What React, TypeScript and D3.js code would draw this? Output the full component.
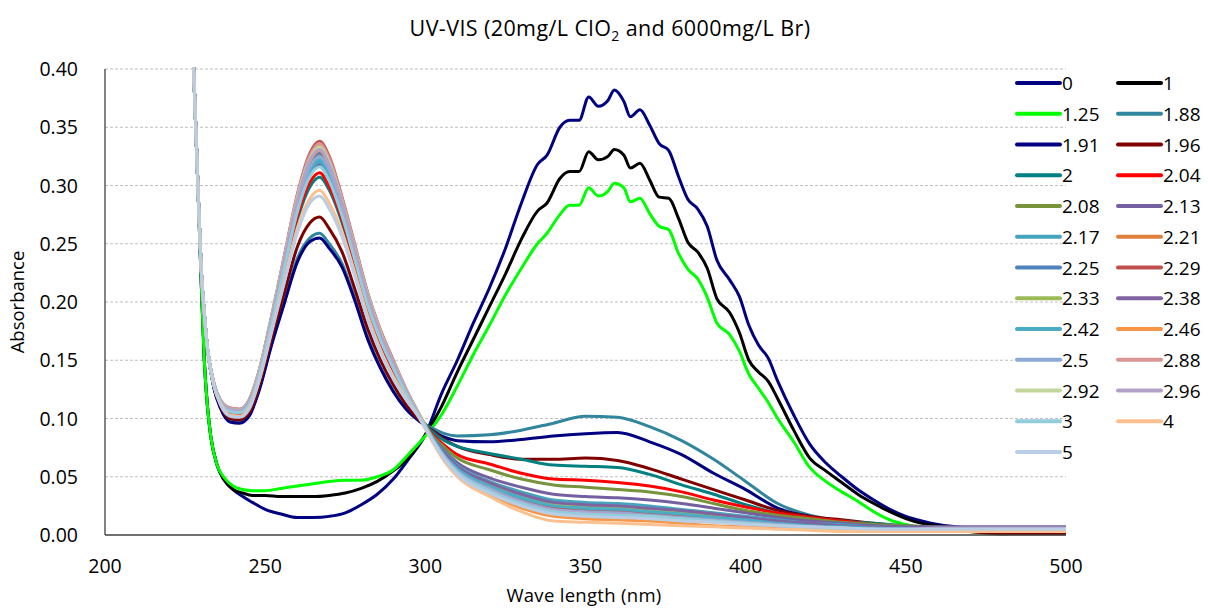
import React from "react";
import * as d3 from "d3";

// ---------- data ----------
const WL_MAIN = [227, 229, 230, 231, 232, 233, 235, 237, 240, 243, 246, 250, 255, 260, 265, 270, 275, 280, 285, 290, 295, 300, 305, 310, 315, 320, 325, 330, 335, 338, 342, 345, 348, 351, 354, 357, 359, 362, 364, 367, 370, 373, 376, 379, 382, 385, 388, 391, 395, 398, 401, 404, 407, 410, 415, 420, 425, 430, 435, 440, 445, 450, 455, 460, 470, 480, 490, 500];

const S_0 = [0.45, 0.30, 0.22, 0.15, 0.11, 0.085,
  0.060, 0.048, 0.039, 0.033, 0.028, 0.022,
  0.018, 0.015, 0.015, 0.016, 0.019, 0.026,
  0.035, 0.048, 0.066, 0.086, 0.121, 0.150,
  0.182, 0.212, 0.246, 0.285, 0.318, 0.326,
  0.350, 0.356, 0.356, 0.376, 0.368, 0.373,
  0.382, 0.372, 0.359, 0.365, 0.352, 0.336,
  0.330, 0.308, 0.288, 0.280, 0.265, 0.236,
  0.219, 0.205, 0.180, 0.163, 0.152, 0.132,
  0.103, 0.078, 0.062, 0.050, 0.039, 0.030,
  0.022, 0.016, 0.012, 0.009, 0.006, 0.005,
  0.005, 0.005];

const S_1 = [0.45, 0.30, 0.22, 0.15, 0.11, 0.085,
  0.060, 0.048, 0.039, 0.036, 0.034, 0.034,
  0.033, 0.033, 0.033, 0.034, 0.036, 0.040,
  0.046, 0.055, 0.067, 0.086, 0.110, 0.140,
  0.168, 0.196, 0.224, 0.254, 0.278, 0.285,
  0.306, 0.312, 0.312, 0.329, 0.322, 0.325,
  0.331, 0.326, 0.315, 0.319, 0.305, 0.290,
  0.289, 0.272, 0.251, 0.243, 0.229, 0.203,
  0.191, 0.174, 0.150, 0.140, 0.132, 0.117,
  0.090, 0.066, 0.055, 0.045, 0.035, 0.027,
  0.020, 0.014, 0.010, 0.008, 0.005, 0.004,
  0.003, 0.003];

const S_125 = [0.45, 0.30, 0.22, 0.15, 0.11, 0.085,
  0.060, 0.050, 0.042, 0.039, 0.038, 0.038,
  0.040, 0.042, 0.044, 0.046, 0.047, 0.047,
  0.050, 0.056, 0.070, 0.085, 0.103, 0.128,
  0.155, 0.180, 0.206, 0.229, 0.250, 0.259,
  0.275, 0.283, 0.283, 0.298, 0.291, 0.295,
  0.302, 0.298, 0.286, 0.289, 0.276, 0.265,
  0.262, 0.242, 0.228, 0.220, 0.204, 0.182,
  0.172, 0.158, 0.138, 0.126, 0.114, 0.100,
  0.080, 0.058, 0.046, 0.037, 0.029, 0.020,
  0.013, 0.009, 0.006, 0.005, 0.003, 0.001,
  0.003, 0.004];

const WL_FAM = [227, 229, 230, 231, 232, 234, 236, 239, 242, 245, 248, 252, 256, 260, 264, 267, 270, 274, 278, 282, 286, 290, 294, 298, 302, 306, 310, 320, 330, 340, 350, 360, 370, 380, 390, 400, 410, 420, 430, 440, 450, 460, 470, 480, 490, 500];

const S_188 = [0.45, 0.30, 0.23, 0.19, 0.16, 0.126, 0.110, 0.098, 0.097, 0.103, 0.124, 0.164, 0.200, 0.237, 0.255, 0.259, 0.250, 0.233, 0.203, 0.170, 0.144, 0.124, 0.109, 0.098,
  0.092, 0.087, 0.085, 0.086, 0.090, 0.096, 0.102, 0.101, 0.093, 0.081, 0.065, 0.046, 0.027, 0.017, 0.012, 0.009, 0.007, 0.006, 0.006, 0.006, 0.006, 0.006];
const S_191 = [0.45, 0.30, 0.23, 0.19, 0.16, 0.126, 0.109, 0.097, 0.096, 0.102, 0.123, 0.163, 0.199, 0.234, 0.252, 0.255, 0.246, 0.230, 0.201, 0.168, 0.143, 0.123, 0.108, 0.098,
  0.090, 0.084, 0.081, 0.080, 0.082, 0.085, 0.087, 0.088, 0.080, 0.069, 0.053, 0.039, 0.023, 0.016, 0.012, 0.009, 0.007, 0.006, 0.006, 0.006, 0.006, 0.006];
const S_196 = [0.45, 0.30, 0.23, 0.19, 0.16, 0.127, 0.111, 0.100, 0.099, 0.105, 0.127, 0.169, 0.208, 0.247, 0.268, 0.273, 0.263, 0.243, 0.211, 0.177, 0.150, 0.129, 0.112, 0.099,
  0.090, 0.082, 0.076, 0.069, 0.065, 0.065, 0.066, 0.064, 0.057, 0.048, 0.039, 0.030, 0.021, 0.016, 0.013, 0.010, 0.007, 0.005, 0.003, 0.001, 0.001, 0.001];
const S_2 = [0.45, 0.30, 0.23, 0.19, 0.16, 0.128, 0.114, 0.105, 0.104, 0.111, 0.134, 0.179, 0.225, 0.270, 0.299, 0.307, 0.296, 0.268, 0.231, 0.193, 0.164, 0.140, 0.119, 0.102,
  0.089, 0.081, 0.076, 0.070, 0.065, 0.060, 0.059, 0.058, 0.052, 0.043, 0.035, 0.026, 0.019, 0.015, 0.012, 0.010, 0.008, 0.006, 0.005, 0.005, 0.005, 0.005];
const S_204 = [0.45, 0.30, 0.23, 0.19, 0.16, 0.129, 0.114, 0.105, 0.104, 0.111, 0.135, 0.180, 0.227, 0.273, 0.303, 0.311, 0.299, 0.271, 0.233, 0.195, 0.165, 0.141, 0.120, 0.102,
  0.087, 0.077, 0.069, 0.061, 0.053, 0.048, 0.047, 0.045, 0.042, 0.037, 0.030, 0.024, 0.019, 0.015, 0.012, 0.009, 0.007, 0.006, 0.005, 0.005, 0.005, 0.005];
const S_208 = [0.45, 0.30, 0.23, 0.19, 0.16, 0.129, 0.115, 0.107, 0.106, 0.113, 0.137, 0.183, 0.232, 0.281, 0.313, 0.322, 0.310, 0.278, 0.240, 0.200, 0.170, 0.145, 0.122, 0.103,
  0.086, 0.075, 0.066, 0.056, 0.048, 0.043, 0.041, 0.039, 0.037, 0.033, 0.027, 0.021, 0.017, 0.014, 0.011, 0.009, 0.008, 0.007, 0.006, 0.006, 0.006, 0.006];
const S_213 = [0.45, 0.30, 0.23, 0.19, 0.16, 0.129, 0.114, 0.106, 0.105, 0.113, 0.136, 0.182, 0.230, 0.278, 0.310, 0.318, 0.306, 0.276, 0.237, 0.198, 0.168, 0.143, 0.121, 0.103,
  0.085, 0.072, 0.062, 0.049, 0.041, 0.035, 0.033, 0.032, 0.030, 0.027, 0.023, 0.019, 0.015, 0.012, 0.010, 0.008, 0.007, 0.007, 0.007, 0.007, 0.007, 0.007];
const S_217 = [0.45, 0.30, 0.23, 0.19, 0.16, 0.129, 0.115, 0.106, 0.105, 0.113, 0.136, 0.183, 0.231, 0.279, 0.311, 0.320, 0.308, 0.277, 0.239, 0.199, 0.169, 0.144, 0.121, 0.103,
  0.085, 0.071, 0.060, 0.046, 0.037, 0.030, 0.028, 0.027, 0.025, 0.022, 0.019, 0.016, 0.013, 0.010, 0.009, 0.007, 0.006, 0.005, 0.005, 0.005, 0.005, 0.005];
const S_221 = [0.45, 0.30, 0.23, 0.19, 0.16, 0.129, 0.115, 0.107, 0.106, 0.114, 0.138, 0.184, 0.234, 0.284, 0.317, 0.326, 0.314, 0.281, 0.242, 0.202, 0.171, 0.146, 0.123, 0.103,
  0.083, 0.067, 0.055, 0.040, 0.029, 0.022, 0.020, 0.019, 0.017, 0.015, 0.013, 0.011, 0.009, 0.007, 0.006, 0.005, 0.004, 0.004, 0.004, 0.004, 0.004, 0.004];
const S_225 = [0.45, 0.30, 0.23, 0.19, 0.16, 0.130, 0.115, 0.108, 0.107, 0.114, 0.138, 0.185, 0.235, 0.285, 0.319, 0.328, 0.316, 0.283, 0.243, 0.203, 0.172, 0.147, 0.123, 0.103,
  0.084, 0.069, 0.058, 0.044, 0.034, 0.027, 0.025, 0.024, 0.022, 0.020, 0.017, 0.014, 0.011, 0.009, 0.008, 0.006, 0.005, 0.005, 0.005, 0.005, 0.005, 0.005];
const S_229 = [0.45, 0.30, 0.23, 0.19, 0.16, 0.130, 0.116, 0.109, 0.108, 0.116, 0.140, 0.188, 0.240, 0.292, 0.328, 0.338, 0.325, 0.290, 0.249, 0.208, 0.176, 0.150, 0.125, 0.104,
  0.083, 0.068, 0.056, 0.042, 0.031, 0.024, 0.022, 0.021, 0.019, 0.017, 0.015, 0.012, 0.010, 0.008, 0.007, 0.006, 0.005, 0.004, 0.004, 0.004, 0.004, 0.004];
const S_233 = [0.45, 0.30, 0.23, 0.19, 0.16, 0.130, 0.116, 0.108, 0.107, 0.115, 0.139, 0.187, 0.238, 0.289, 0.324, 0.334, 0.321, 0.287, 0.247, 0.206, 0.174, 0.149, 0.124, 0.104,
  0.084, 0.069, 0.057, 0.043, 0.033, 0.026, 0.024, 0.023, 0.021, 0.019, 0.016, 0.013, 0.011, 0.009, 0.007, 0.006, 0.005, 0.005, 0.005, 0.005, 0.005, 0.005];
const S_238 = [0.45, 0.30, 0.23, 0.19, 0.16, 0.130, 0.115, 0.108, 0.107, 0.115, 0.138, 0.186, 0.236, 0.286, 0.321, 0.330, 0.317, 0.284, 0.244, 0.204, 0.173, 0.147, 0.123, 0.103,
  0.084, 0.070, 0.059, 0.045, 0.035, 0.028, 0.026, 0.025, 0.023, 0.021, 0.018, 0.015, 0.012, 0.010, 0.008, 0.007, 0.006, 0.006, 0.006, 0.006, 0.006, 0.006];
const S_242 = [0.45, 0.30, 0.23, 0.19, 0.16, 0.129, 0.115, 0.107, 0.106, 0.113, 0.137, 0.183, 0.232, 0.281, 0.313, 0.322, 0.310, 0.278, 0.240, 0.200, 0.170, 0.145, 0.122, 0.103,
  0.084, 0.068, 0.057, 0.042, 0.032, 0.025, 0.023, 0.022, 0.020, 0.018, 0.015, 0.013, 0.010, 0.008, 0.007, 0.006, 0.005, 0.004, 0.004, 0.004, 0.004, 0.004];
const S_246 = [0.45, 0.30, 0.23, 0.19, 0.16, 0.130, 0.115, 0.108, 0.107, 0.115, 0.138, 0.186, 0.236, 0.286, 0.321, 0.330, 0.317, 0.284, 0.244, 0.204, 0.173, 0.147, 0.123, 0.103,
  0.082, 0.064, 0.051, 0.035, 0.023, 0.016, 0.014, 0.013, 0.012, 0.010, 0.008, 0.007, 0.006, 0.005, 0.004, 0.003, 0.003, 0.003, 0.003, 0.003, 0.003, 0.003];
const S_25 = [0.45, 0.30, 0.23, 0.19, 0.16, 0.129, 0.115, 0.107, 0.106, 0.114, 0.137, 0.184, 0.234, 0.283, 0.316, 0.325, 0.313, 0.281, 0.241, 0.202, 0.171, 0.146, 0.122, 0.103,
  0.083, 0.067, 0.055, 0.040, 0.029, 0.022, 0.020, 0.019, 0.017, 0.015, 0.013, 0.011, 0.009, 0.007, 0.006, 0.005, 0.005, 0.005, 0.005, 0.005, 0.005, 0.005];
const S_288 = [0.45, 0.30, 0.23, 0.19, 0.16, 0.130, 0.116, 0.109, 0.108, 0.116, 0.140, 0.187, 0.239, 0.291, 0.326, 0.336, 0.323, 0.289, 0.248, 0.207, 0.175, 0.149, 0.125, 0.104,
  0.083, 0.066, 0.054, 0.038, 0.027, 0.020, 0.018, 0.017, 0.016, 0.014, 0.012, 0.010, 0.008, 0.007, 0.006, 0.005, 0.004, 0.004, 0.004, 0.004, 0.004, 0.004];
const S_292 = [0.45, 0.30, 0.23, 0.19, 0.16, 0.130, 0.116, 0.108, 0.107, 0.115, 0.139, 0.187, 0.238, 0.289, 0.323, 0.333, 0.320, 0.286, 0.246, 0.206, 0.174, 0.148, 0.124, 0.104,
  0.083, 0.066, 0.053, 0.037, 0.026, 0.019, 0.017, 0.016, 0.015, 0.013, 0.011, 0.010, 0.008, 0.006, 0.005, 0.005, 0.004, 0.004, 0.004, 0.004, 0.004, 0.004];
const S_296 = [0.45, 0.30, 0.23, 0.19, 0.16, 0.130, 0.116, 0.108, 0.107, 0.115, 0.138, 0.186, 0.237, 0.287, 0.322, 0.331, 0.318, 0.285, 0.245, 0.205, 0.173, 0.148, 0.124, 0.103,
  0.083, 0.067, 0.054, 0.039, 0.028, 0.021, 0.019, 0.018, 0.016, 0.014, 0.012, 0.010, 0.008, 0.007, 0.006, 0.005, 0.005, 0.006, 0.006, 0.006, 0.006, 0.006];
const S_3 = [0.45, 0.30, 0.23, 0.19, 0.16, 0.129, 0.114, 0.106, 0.105, 0.112, 0.136, 0.181, 0.229, 0.277, 0.308, 0.316, 0.304, 0.274, 0.236, 0.197, 0.167, 0.143, 0.121, 0.102,
  0.083, 0.066, 0.054, 0.038, 0.027, 0.020, 0.018, 0.017, 0.016, 0.014, 0.012, 0.010, 0.008, 0.007, 0.006, 0.005, 0.005, 0.005, 0.005, 0.005, 0.005, 0.005];
const S_4 = [0.45, 0.30, 0.23, 0.19, 0.16, 0.128, 0.113, 0.103, 0.102, 0.109, 0.132, 0.175, 0.219, 0.263, 0.289, 0.296, 0.285, 0.260, 0.225, 0.188, 0.159, 0.136, 0.117, 0.101,
  0.081, 0.063, 0.050, 0.033, 0.020, 0.012, 0.011, 0.010, 0.009, 0.008, 0.007, 0.006, 0.005, 0.004, 0.003, 0.003, 0.003, 0.003, 0.003, 0.003, 0.003, 0.003];
const S_5 = [0.45, 0.30, 0.23, 0.19, 0.16, 0.128, 0.112, 0.102, 0.101, 0.108, 0.131, 0.174, 0.217, 0.259, 0.285, 0.291, 0.280, 0.256, 0.222, 0.185, 0.157, 0.134, 0.116, 0.101,
  0.082, 0.065, 0.052, 0.036, 0.025, 0.018, 0.016, 0.015, 0.014, 0.012, 0.011, 0.009, 0.008, 0.007, 0.006, 0.005, 0.005, 0.005, 0.005, 0.005, 0.005, 0.005];

const SERIES_NAMES = ["0", "1", "1.25", "1.88", "1.91", "1.96", "2", "2.04", "2.08", "2.13", "2.17", "2.21", "2.25", "2.29", "2.33", "2.38", "2.42", "2.46", "2.5", "2.88", "2.92", "2.96", "3", "4", "5"];
const SERIES_COLORS = ["#000080", "#000000", "#00FF00", "#31859C", "#000080", "#800000", "#008080", "#FF0000", "#77933C", "#7460A0", "#46A3BD", "#E0803C", "#4F81BD", "#C0504D", "#9BBB59", "#8064A2", "#4BACC6", "#F79646", "#8DA9D6", "#D99694", "#C3D69B", "#B3A2C7", "#93CDDD", "#FAC090", "#B9CDE5"];
const SERIES_VALUES = [S_0, S_1, S_125, S_188, S_191, S_196, S_2, S_204, S_208, S_213, S_217, S_221, S_225, S_229, S_233, S_238, S_242, S_246, S_25, S_288, S_292, S_296, S_3, S_4, S_5];
const SERIES_WL = [WL_MAIN, WL_MAIN, WL_MAIN];

const X_TICKS = [200, 250, 300, 350, 400, 450, 500];
const Y_TICKS = [0, 0.05, 0.1, 0.15, 0.2, 0.25, 0.3, 0.35, 0.4];

// ---------- layout ----------
const W = 1208, H = 609;
const L = 105, R = 1066, T = 69, B = 535;
const FONT = "'Open Sans', 'DejaVu Sans', sans-serif";

export default function App() {
  const x = d3.scaleLinear().domain([200, 500]).range([L, R]);
  const y = d3.scaleLinear().domain([0, 0.4]).range([B, T]);
  const line = d3.line<[number, number]>()
    .x((d) => x(d[0]))
    .y((d) => y(d[1]))
    .curve(d3.curveMonotoneX);

  const series = SERIES_NAMES.map((name, i) => {
    const wl = i < SERIES_WL.length ? SERIES_WL[i] : WL_FAM;
    const vals = SERIES_VALUES[i];
    const pts: [number, number][] = wl.map((w, j) => [w, vals[j]]);
    return { name, color: SERIES_COLORS[i], pts };
  });

  const legRow0 = 83, legDy = 30.75;
  const legCols = [1017, 1118];

  return (
    <svg width={W} height={H} style={{ position: "absolute", left: 0, top: 0, background: "#fff" }} fontFamily={FONT}>
      <defs>
        <clipPath id="plotclip">
          <rect x={L} y={T - 2} width={R - L} height={B - T + 4} />
        </clipPath>
      </defs>
      <rect x={0} y={0} width={W} height={H} fill="#fff" />
      {/* title */}
      <text x={610} y={36} textAnchor="middle" fontSize={21.5} fill="#000" letterSpacing={0.4}>
        UV-VIS (20mg/L ClO<tspan fontSize={14} dy={5}>2</tspan><tspan dy={-5}> and 6000mg/L Br)</tspan>
      </text>
      {/* grid */}
      {Y_TICKS.filter((t) => t > 0).map((t) => (
        <line key={t} x1={L} x2={R} y1={y(t)} y2={y(t)} stroke="#BFBFBF" strokeWidth={1} strokeDasharray="3,2" />
      ))}
      {/* series */}
      <g clipPath="url(#plotclip)">
        {series.map((s) => (
          <path key={s.name} d={line(s.pts) || ""} fill="none" stroke={s.color} strokeWidth={3} strokeLinejoin="round" />
        ))}
      </g>
      {/* axes */}
      <line x1={L} x2={L} y1={T} y2={B} stroke="#404040" strokeWidth={1.3} />
      <line x1={L} x2={R} y1={B} y2={B} stroke="#404040" strokeWidth={1.3} />
      {Y_TICKS.map((t) => (
        <text key={t} x={78} y={y(t) + 7} textAnchor="end" fontSize={19.5} fill="#000">{t.toFixed(2)}</text>
      ))}
      {X_TICKS.map((t) => (
        <text key={t} x={x(t)} y={572.5} textAnchor="middle" fontSize={19.5} fill="#000">{t}</text>
      ))}
      <text x={584} y={602} textAnchor="middle" fontSize={18.5} fill="#000" letterSpacing={0.3}>Wave length (nm)</text>
      <text transform={`translate(24,302) rotate(-90)`} textAnchor="middle" fontSize={18.5} fill="#000">Absorbance</text>
      {/* legend */}
      {series.map((s, i) => {
        const col = i % 2, row = Math.floor(i / 2);
        const lx = legCols[col], ly = legRow0 + row * legDy;
        return (
          <g key={s.name}>
            <line x1={lx} x2={lx + 43} y1={ly} y2={ly} stroke={s.color} strokeWidth={4} strokeLinecap="round" />
            <text x={lx + 45} y={ly + 7} fontSize={19} fill="#000">{s.name}</text>
          </g>
        );
      })}
    </svg>
  );
}
